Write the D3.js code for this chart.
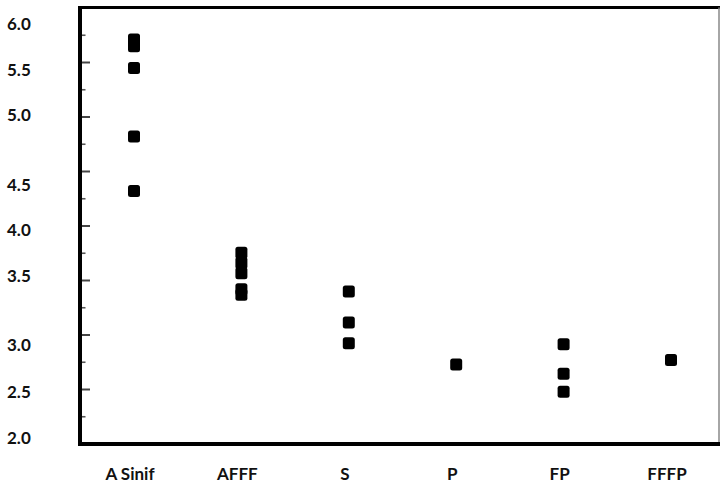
<!DOCTYPE html>
<html>
<head>
<meta charset="utf-8">
<script src="https://cdn.jsdelivr.net/npm/d3@7"></script>
<style>
  body { margin: 0; background: #fff; }
  text { font-family: Lato, "Open Sans", sans-serif; font-weight: bold; fill: #111; }
</style>
</head>
<body>
<div id="vis"></div>
<script>
// categories along the bottom
var categories = ["A Sinif", "AFFF", "S", "P", "FP", "FFFP"];

// values, one list per group
var aSinif = [5.71, 5.65, 5.45, 4.82, 4.32];
var afff = [3.755, 3.66, 3.566, 3.42, 3.37];
var sVals = [3.40, 3.115, 2.925];
var pVals = [2.73];
var fpVals = [2.915, 2.645, 2.48];
var fffpVals = [2.77];

// y tick labels and where the source drew them (in axis units)
var yLabels = ["6.0", "5.5", "5.0", "4.5", "4.0", "3.5", "3.0", "2.5", "2.0"];
var yLabelAt = [5.853, 5.431, 5.018, 4.376, 3.963, 3.541, 2.908, 2.477, 2.06];

var majorTicks = [2.5, 3.0, 3.5, 4.0, 4.5, 5.0, 5.5];
var minorTicks = [2.25, 2.75, 3.25, 3.75, 4.25, 4.75, 5.25, 5.75];

var width = 720;
var height = 484;
var frame = { left: 80, right: 719, top: 7.5, bottom: 444 };

var groups = [aSinif, afff, sVals, pVals, fpVals, fffpVals];
var points = [];
groups.forEach(function (vals, i) {
  vals.forEach(function (v) {
    points.push({ cat: categories[i], value: v });
  });
});

var svg = d3.select('#vis').append('svg')
  .attr('width', width)
  .attr('height', height);

var x = d3.scalePoint()
  .domain(categories)
  .range([134, 671]);

var y = d3.scaleLinear()
  .domain([2, 6])
  .range([frame.bottom, 8]);

// small blur so the squares look like the scanned original
var defs = svg.append('defs');
defs.append('filter')
  .attr('id', 'soft')
  .append('feGaussianBlur')
  .attr('stdDeviation', 0.6);

// tick marks on the inside of the left axis
svg.append('g')
  .selectAll('line.major')
  .data(majorTicks)
  .enter()
  .append('line')
  .attr('x1', frame.left)
  .attr('x2', frame.left + 10)
  .attr('y1', function (d) { return y(d); })
  .attr('y2', function (d) { return y(d); })
  .attr('stroke', '#444')
  .attr('stroke-width', 2);

svg.append('g')
  .selectAll('line.minor')
  .data(minorTicks)
  .enter()
  .append('line')
  .attr('x1', frame.left)
  .attr('x2', frame.left + 5.5)
  .attr('y1', function (d) { return y(d); })
  .attr('y2', function (d) { return y(d); })
  .attr('stroke', '#555')
  .attr('stroke-width', 1.6);

// frame
svg.append('line')
  .attr('x1', frame.left - 2).attr('x2', width)
  .attr('y1', frame.top).attr('y2', frame.top)
  .attr('stroke', '#000').attr('stroke-width', 3);
svg.append('line')
  .attr('x1', frame.right).attr('x2', frame.right)
  .attr('y1', frame.top).attr('y2', frame.bottom)
  .attr('stroke', '#888').attr('stroke-width', 1.5);
svg.append('line')
  .attr('x1', frame.left).attr('x2', frame.left)
  .attr('y1', frame.top - 1.5).attr('y2', frame.bottom + 2)
  .attr('stroke', '#000').attr('stroke-width', 4);
svg.append('line')
  .attr('x1', frame.left - 2).attr('x2', width)
  .attr('y1', frame.bottom).attr('y2', frame.bottom)
  .attr('stroke', '#000').attr('stroke-width', 4);

// y labels
svg.append('g')
  .selectAll('text')
  .data(yLabels)
  .enter()
  .append('text')
  .attr('x', 7)
  .attr('y', function (d, i) { return y(yLabelAt[i]); })
  .attr('dy', '0.36em')
  .style('font-size', '17px')
  .text(function (d) { return d; });

// category labels
svg.append('g')
  .selectAll('text')
  .data(categories)
  .enter()
  .append('text')
  .attr('x', function (d) { return x(d) - 4; })
  .attr('y', 479.5)
  .attr('text-anchor', 'middle')
  .style('font-size', '17px')
  .text(function (d) { return d; });

// points
var size = 12;
svg.append('g')
  .attr('filter', 'url(#soft)')
  .selectAll('rect')
  .data(points)
  .enter()
  .append('rect')
  .attr('x', function (d) { return x(d.cat) - size / 2; })
  .attr('y', function (d) { return y(d.value) - size / 2; })
  .attr('width', size)
  .attr('height', size)
  .attr('rx', 2.5)
  .attr('fill', '#000');
</script>
</body>
</html>
